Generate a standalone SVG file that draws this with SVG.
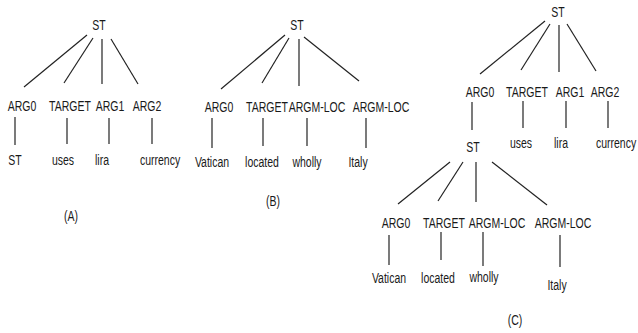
<svg xmlns="http://www.w3.org/2000/svg" width="638" height="333" viewBox="0 0 638 333">
<style>
text{font-family:"Liberation Sans",Arial,sans-serif;font-size:15px;fill:#1a1a1a;text-anchor:middle}
.e line{stroke:#222;stroke-width:1.2}
</style>
<rect width="638" height="333" fill="#fff"/>
<g id="connectors" class="e">
<line x1="87" y1="35" x2="24" y2="87"/>
<line x1="93" y1="38" x2="64" y2="83"/>
<line x1="102" y1="39" x2="102" y2="84"/>
<line x1="111" y1="39" x2="138" y2="84"/>
<line x1="15" y1="117" x2="15" y2="145"/>
<line x1="67" y1="118" x2="67" y2="144"/>
<line x1="109" y1="118" x2="109" y2="144"/>
<line x1="152" y1="118" x2="152" y2="144"/>
<line x1="285" y1="35" x2="221" y2="89"/>
<line x1="289" y1="38" x2="262" y2="83"/>
<line x1="299" y1="39" x2="299" y2="86"/>
<line x1="304" y1="37" x2="359" y2="81"/>
<line x1="212" y1="118" x2="212" y2="148"/>
<line x1="263" y1="118" x2="263" y2="146"/>
<line x1="307" y1="118" x2="307" y2="146"/>
<line x1="366" y1="118" x2="366" y2="148"/>
<line x1="545" y1="21" x2="480" y2="74"/>
<line x1="550" y1="24" x2="521" y2="70"/>
<line x1="559" y1="25" x2="559" y2="72"/>
<line x1="567" y1="24" x2="596" y2="71"/>
<line x1="472" y1="102" x2="472" y2="130"/>
<line x1="523" y1="101" x2="523" y2="128"/>
<line x1="566" y1="101" x2="566" y2="128"/>
<line x1="608" y1="101" x2="608" y2="128"/>
<line x1="450" y1="162" x2="398" y2="204"/>
<line x1="463" y1="162" x2="438" y2="201"/>
<line x1="476" y1="162" x2="476" y2="202"/>
<line x1="492" y1="162" x2="547" y2="205"/>
<line x1="389" y1="235" x2="389" y2="265"/>
<line x1="441" y1="232" x2="441" y2="260"/>
<line x1="483" y1="232" x2="483" y2="266"/>
<line x1="560" y1="235" x2="560" y2="267"/>
</g>
<g id="A-ST"><text transform="translate(99 30) scale(.7 1)">ST</text></g>
<g id="A-ARG0"><text transform="translate(22 111) scale(.7 1)">ARG0</text></g>
<g id="A-TARGET"><text transform="translate(70 111) scale(.7 1)">TARGET</text></g>
<g id="A-ARG1"><text transform="translate(110 111) scale(.7 1)">ARG1</text></g>
<g id="A-ARG2"><text transform="translate(147 111) scale(.7 1)">ARG2</text></g>
<g id="A-ST2"><text transform="translate(15 165) scale(.7 1)">ST</text></g>
<g id="A-uses"><text transform="translate(63 165) scale(.7 1)">uses</text></g>
<g id="A-lira"><text transform="translate(102 165) scale(.7 1)">lira</text></g>
<g id="A-currency"><text transform="translate(160 165) scale(.7 1)">currency</text></g>
<g id="A-label"><text transform="translate(71 221) scale(.7 1)">(A)</text></g>
<g id="B-ST"><text transform="translate(297 30) scale(.7 1)">ST</text></g>
<g id="B-ARG0"><text transform="translate(219 112) scale(.7 1)">ARG0</text></g>
<g id="B-TARGET"><text transform="translate(267 112) scale(.7 1)">TARGET</text></g>
<g id="B-ARGM-LOC1"><text transform="translate(317 112) scale(.7 1)">ARGM-LOC</text></g>
<g id="B-ARGM-LOC2"><text transform="translate(381 112) scale(.7 1)">ARGM-LOC</text></g>
<g id="B-Vatican"><text transform="translate(212 167) scale(.7 1)">Vatican</text></g>
<g id="B-located"><text transform="translate(262 167) scale(.7 1)">located</text></g>
<g id="B-wholly"><text transform="translate(307 167) scale(.7 1)">wholly</text></g>
<g id="B-Italy"><text transform="translate(358 167) scale(.7 1)">Italy</text></g>
<g id="B-label"><text transform="translate(273 206) scale(.7 1)">(B)</text></g>
<g id="C-ST"><text transform="translate(558 17) scale(.7 1)">ST</text></g>
<g id="C-ARG0"><text transform="translate(480 97) scale(.7 1)">ARG0</text></g>
<g id="C-TARGET"><text transform="translate(527 97) scale(.7 1)">TARGET</text></g>
<g id="C-ARG1"><text transform="translate(570 97) scale(.7 1)">ARG1</text></g>
<g id="C-ARG2"><text transform="translate(605 97) scale(.7 1)">ARG2</text></g>
<g id="C-ST2"><text transform="translate(473 152) scale(.7 1)">ST</text></g>
<g id="C-uses"><text transform="translate(521 148) scale(.7 1)">uses</text></g>
<g id="C-lira"><text transform="translate(561 148) scale(.7 1)">lira</text></g>
<g id="C-currency"><text transform="translate(616 148) scale(.7 1)">currency</text></g>
<g id="C-ARG0b"><text transform="translate(396 228) scale(.7 1)">ARG0</text></g>
<g id="C-TARGETb"><text transform="translate(444 228) scale(.7 1)">TARGET</text></g>
<g id="C-ARGM-LOC1"><text transform="translate(497 228) scale(.7 1)">ARGM-LOC</text></g>
<g id="C-ARGM-LOC2"><text transform="translate(563 228) scale(.7 1)">ARGM-LOC</text></g>
<g id="C-Vatican"><text transform="translate(389 283) scale(.7 1)">Vatican</text></g>
<g id="C-located"><text transform="translate(438 283) scale(.7 1)">located</text></g>
<g id="C-wholly"><text transform="translate(484 282) scale(.7 1)">wholly</text></g>
<g id="C-Italy"><text transform="translate(557 290) scale(.7 1)">Italy</text></g>
<g id="C-label"><text transform="translate(515 325) scale(.7 1)">(C)</text></g>
</svg>
